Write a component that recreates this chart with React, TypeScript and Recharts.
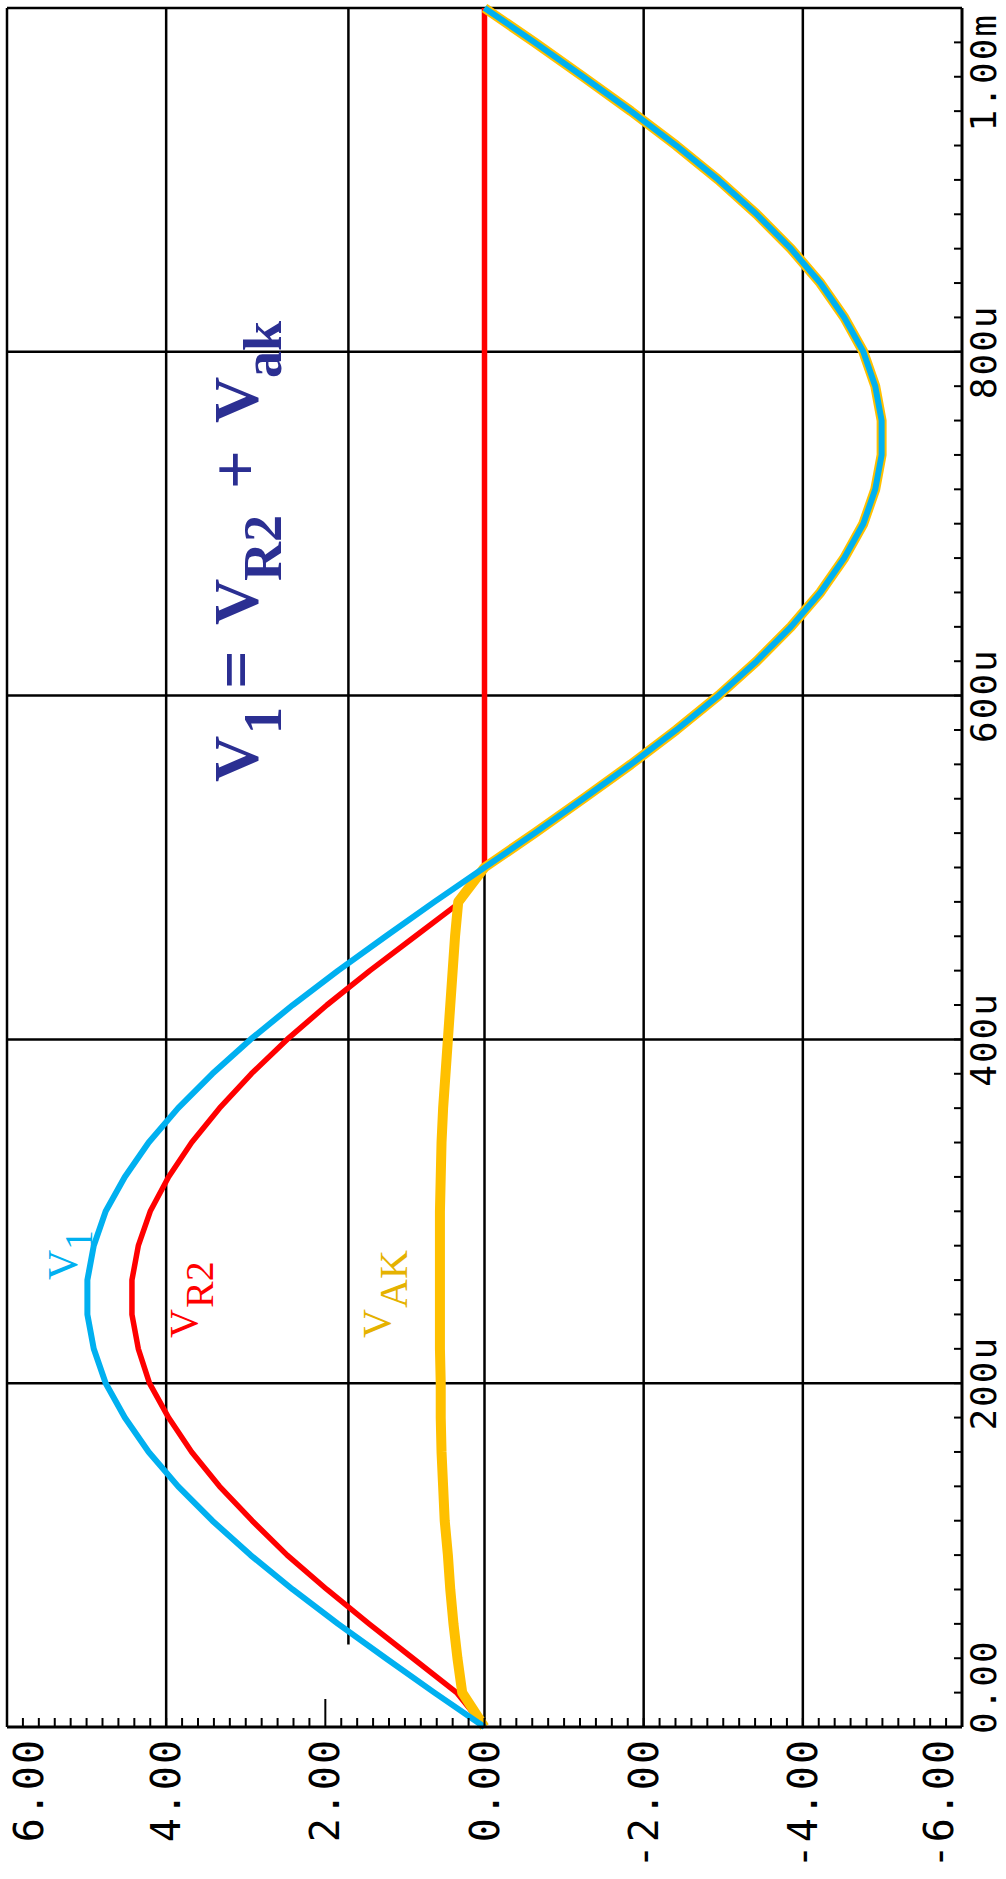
import { LineChart, Line, XAxis, YAxis, CartesianGrid, ReferenceLine } from 'recharts';

// time in microseconds, voltages in volts
const timesUs = [
  0, 20, 40, 60, 80, 100, 120, 140, 160, 180, 200, 220, 240, 260, 280, 300, 320, 340, 360, 380,
  400, 420, 440, 460, 480, 500, 520, 540, 560, 580, 600, 620, 640, 660, 680, 700, 720, 740, 760, 780,
  800, 820, 840, 860, 880, 900, 920, 940, 960, 980, 1000,
];

const v1Volts = [
  0, 0.63, 1.24, 1.84, 2.41, 2.94, 3.42, 3.85, 4.22, 4.52, 4.76, 4.91, 4.99, 4.99, 4.91, 4.76, 4.52, 4.22, 3.85, 3.42,
  2.94, 2.41, 1.84, 1.24, 0.63, 0, -0.63, -1.24, -1.84, -2.41, -2.94, -3.42, -3.85, -4.22, -4.52, -4.76, -4.91, -4.99, -4.99, -4.91,
  -4.76, -4.52, -4.22, -3.85, -3.42, -2.94, -2.41, -1.84, -1.24, -0.63, 0,
];

const vr2Volts = [
  0, 0.35, 0.9, 1.45, 1.98, 2.48, 2.92, 3.33, 3.68, 3.97, 4.21, 4.35, 4.43, 4.43, 4.35, 4.2, 3.97, 3.68, 3.33, 2.93,
  2.48, 1.98, 1.44, 0.87, 0.3, 0, 0, 0, 0, 0, 0, 0, 0, 0, 0, 0, 0, 0, 0, 0,
  0, 0, 0, 0, 0, 0, 0, 0, 0, 0, 0,
];

const vakVolts = [
  0, 0.28, 0.34, 0.39, 0.43, 0.46, 0.5, 0.52, 0.54, 0.55, 0.55, 0.56, 0.56, 0.56, 0.56, 0.56, 0.55, 0.54, 0.52, 0.49,
  0.46, 0.43, 0.4, 0.37, 0.33, 0, -0.63, -1.24, -1.84, -2.41, -2.94, -3.42, -3.85, -4.22, -4.52, -4.76, -4.91, -4.99, -4.99, -4.91,
  -4.76, -4.52, -4.22, -3.85, -3.42, -2.94, -2.41, -1.84, -1.24, -0.63, 0,
];

const timeTickLabels = ['0.00', '200u', '400u', '600u', '800u', '1.00m'];
const timeGridUs = [200, 400, 600, 800, 1000];
const voltGrid = [6, 4, 0, -2, -4];

const data = timesUs.map((t, i) => ({ t, v1: v1Volts[i], vr2: vr2Volts[i], vak: vakVolts[i] }));

const timeMinorTicks = Array.from({ length: 51 }, (_, i) => i * 20);
const voltMinorTicks = Array.from({ length: 61 }, (_, i) => Math.round((-6 + i * 0.2) * 10) / 10);

const W = 1879;
const H = 1006;
const MONO = '"DejaVu Sans Mono", monospace';
const SERIF = '"Liberation Serif", "Times New Roman", serif';

const TimeTick = (props: any) => {
  const { x, y, payload } = props;
  const v = payload.value;
  const idx = Math.round(v / 200);
  const major = Math.abs(v - idx * 200) < 0.01;
  let label = null;
  if (major) {
    let anchor: 'middle' | 'start' | 'end' = 'middle';
    let tx = x;
    if (idx === 0) { anchor = 'start'; tx = x - 7; }
    if (idx === 5) { anchor = 'end'; tx = x - 5; }
    label = (
      <text x={tx} y={y + 34} textAnchor={anchor} fontFamily={MONO} fontSize={36} letterSpacing={2} fill="#000">
        {timeTickLabels[idx]}
      </text>
    );
  }
  return (
    <g>
      <line x1={x} y1={y} x2={x} y2={y - 8} stroke="#000" strokeWidth={2} />
      {label}
    </g>
  );
};

const VoltTick = (props: any) => {
  const { x, y, payload } = props;
  const v = payload.value;
  const tenths = Math.round(v * 10);
  const labelled = tenths % 20 === 0;
  const len = tenths === 20 ? 28 : 9;
  let label = null;
  if (labelled) {
    let by = y + 14;
    if (tenths === 60) by = y + 36;
    if (tenths === -60) by = y - 9;
    label = (
      <text x={x - 11} y={by} textAnchor="end" fontFamily={MONO} fontSize={40} letterSpacing={2} fill="#000">
        {v.toFixed(2)}
      </text>
    );
  }
  return (
    <g>
      <line x1={x} y1={y} x2={x + len} y2={y} stroke="#000" strokeWidth={2} />
      {label}
    </g>
  );
};

const Annotations = () => (
  <svg width={W} height={H} style={{ position: 'absolute', left: 0, top: 0, pointerEvents: 'none' }}>
    <text fontFamily={SERIF} fontWeight="bold" fill="#2B2F92">
      <tspan x={1097} y={258} fontSize={64}>V</tspan>
      <tspan x={1145} y={281} fontSize={54}>1</tspan>
      <tspan x={1190} y={258} fontSize={68}>=</tspan>
      <tspan x={1254} y={258} fontSize={64}>V</tspan>
      <tspan x={1298} y={281} fontSize={54}>R2</tspan>
      <tspan x={1390} y={258} fontSize={68}>+</tspan>
      <tspan x={1456} y={258} fontSize={64}>V</tspan>
      <tspan x={1501} y={281} fontSize={54}>ak</tspan>
    </text>
    <text fontFamily={SERIF} fill="#00B0F0">
      <tspan x={599} y={77} fontSize={42}>V</tspan>
      <tspan x={629} y={92} fontSize={40}>1</tspan>
    </text>
    <text fontFamily={SERIF} fill="#FF0000">
      <tspan x={541} y={197} fontSize={40}>V</tspan>
      <tspan x={571} y={213} fontSize={40}>R2</tspan>
    </text>
    <text fontFamily={SERIF} fill="#E5B200">
      <tspan x={541} y={390} fontSize={40}>V</tspan>
      <tspan x={571} y={407} fontSize={40}>AK</tspan>
    </text>
  </svg>
);

const App = () => {
  return (
    <div style={{ position: 'absolute', left: 0, top: 0, width: H, height: W, overflow: 'hidden', background: '#fff' }}>
      <div
        style={{
          position: 'absolute',
          left: 0,
          top: 0,
          width: W,
          height: H,
          transformOrigin: '0 0',
          transform: `translateY(${W}px) rotate(-90deg)`,
        }}
      >
        <LineChart width={W} height={H} data={data} margin={{ top: 7, right: 8, bottom: 0, left: 0 }}>
          <CartesianGrid
            stroke="#000"
            strokeWidth={2.5}
            horizontalValues={voltGrid}
            verticalValues={timeGridUs}
          />
          <ReferenceLine
            segment={[{ x: 48, y: 1.71 }, { x: 1000, y: 1.71 }]}
            stroke="#000"
            strokeWidth={2.5}
          />
          <XAxis
            dataKey="t"
            type="number"
            domain={[0, 1000]}
            ticks={timeMinorTicks}
            interval={0}
            tick={TimeTick}
            tickLine={false}
            tickSize={0}
            tickMargin={0}
            axisLine={{ stroke: '#000', strokeWidth: 3 }}
            height={44}
          />
          <YAxis
            type="number"
            domain={[-6, 6]}
            ticks={voltMinorTicks}
            interval={0}
            tick={VoltTick}
            tickLine={false}
            tickSize={0}
            tickMargin={0}
            axisLine={{ stroke: '#000', strokeWidth: 3 }}
            width={152}
          />
          <Line type="linear" dataKey="vr2" stroke="#FF0000" strokeWidth={5.5} dot={false} isAnimationActive={false} strokeLinejoin="round" />
          <Line type="linear" dataKey="vak" stroke="#FFC000" strokeWidth={10} dot={false} isAnimationActive={false} strokeLinejoin="round" />
          <Line type="linear" dataKey="v1" stroke="#00B0F0" strokeWidth={6} dot={false} isAnimationActive={false} strokeLinejoin="round" />
        </LineChart>
        <Annotations />
      </div>
    </div>
  );
};

export default App;
